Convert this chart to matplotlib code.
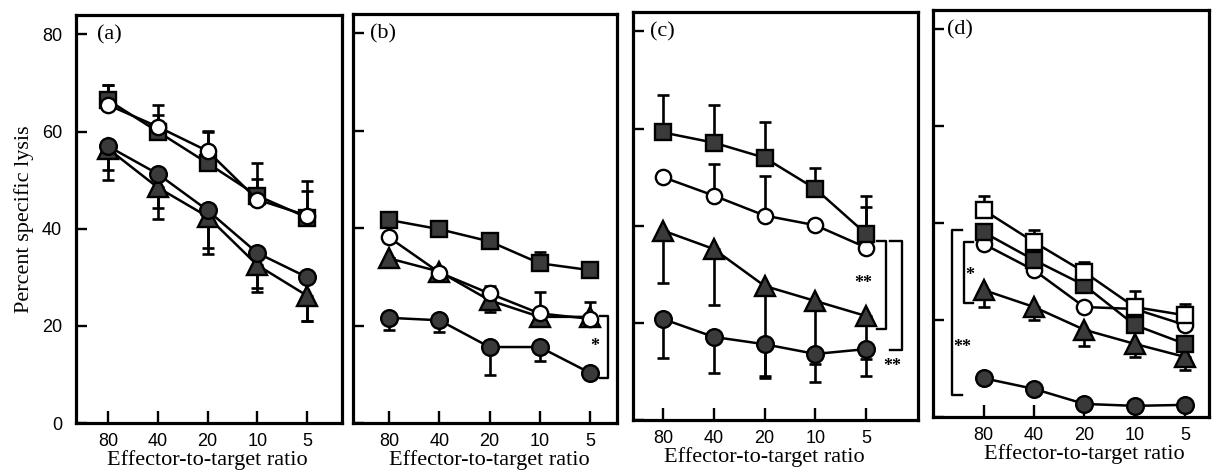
import matplotlib
matplotlib.use("Agg")
import matplotlib.pyplot as plt
from matplotlib.transforms import blended_transform_factory

# ---------------- data ----------------
ratio_labels = ["80", "40", "20", "10", "5"]
y_ticks = [0, 20, 40, 60, 80]
panel_labels = ["(a)", "(b)", "(c)", "(d)"]
xlabel_text = "Effector-to-target ratio"
ylabel_text = "Percent specific lysis"

# panel (a)
a_open_circle = [65.5, 61.0, 56.0, 46.0, 42.7]
a_open_circle_up = [4.0, 4.5, 4.2, 7.5, 5.0]
a_filled_square = [66.5, 60.0, 53.5, 46.8, 42.3]
a_filled_square_up = [3.0, 3.5, 6.5, 3.5, 7.5]
a_filled_circle = [57.0, 51.3, 43.8, 35.0, 30.0]
a_filled_circle_dn = [7.0, 7.0, 9.0, 7.2, 9.0]
a_triangle = [56.5, 48.5, 42.5, 32.5, 26.2]
a_triangle_dn = [4.5, 6.5, 6.5, 5.5, 5.2]

# panel (b)
b_filled_square = [41.7, 39.8, 37.3, 32.8, 31.4]
b_filled_square_up = [0, 0, 0, 2.4, 0]
b_open_circle = [38.1, 30.9, 26.6, 22.5, 21.4]
b_open_circle_up = [0, 0, 1.6, 4.5, 3.5]
b_triangle = [33.8, 31.1, 25.2, 21.8, 21.8]
b_triangle_dn = [0, 0, 2.4, 0, 0]
b_filled_circle = [21.6, 21.1, 15.6, 15.6, 10.3]
b_filled_circle_dn = [2.6, 2.4, 5.7, 2.8, 0]

# panel (c)
c_filled_square = [59.2, 57.1, 54.0, 47.6, 38.3]
c_filled_square_up = [7.8, 7.8, 7.4, 4.2, 7.9]
c_open_circle = [50.0, 46.2, 42.1, 40.1, 35.5]
c_open_circle_up = [0, 6.6, 8.2, 0, 8.4]
c_triangle = [39.0, 35.2, 27.6, 24.5, 21.4]
c_triangle_dn = [10.8, 11.5, 18.5, 13.0, 8.8]
c_filled_circle = [20.8, 17.1, 15.6, 13.6, 14.6]
c_filled_circle_dn = [8.0, 7.4, 6.9, 5.8, 5.5]

# panel (d)
d_open_square = [42.7, 36.1, 29.9, 22.7, 21.0]
d_open_square_up = [2.9, 2.5, 2.0, 3.3, 2.3]
d_filled_square = [38.1, 32.4, 27.2, 19.0, 15.1]
d_filled_square_up = [1.5, 0, 0, 0, 0]
d_open_circle = [35.7, 30.3, 22.7, 22.3, 19.0]
d_open_circle_up = [0, 0, 0, 0, 0]
d_triangle = [26.2, 22.7, 18.0, 15.1, 12.4]
d_triangle_dn = [3.5, 2.7, 3.4, 2.7, 2.7]
d_filled_circle = [8.0, 5.8, 2.7, 2.3, 2.5]
d_filled_circle_dn = [0, 0, 0, 0, 0]

# ---------------- style ----------------
W, H = 1214, 474
SERIF = ["Liberation Serif", "DejaVu Serif"]
SANS = ["Liberation Sans", "DejaVu Sans"]
FILL = "#3a3a3a"

styles = {
    "open_circle": dict(marker="o", ms=11, mfc="white"),
    "filled_circle": dict(marker="o", ms=12, mfc=FILL),
    "filled_square": dict(marker="s", ms=11, mfc=FILL),
    "open_square": dict(marker="s", ms=11, mfc="white"),
    "triangle": dict(marker="^", ms=14, mfc=FILL),
}

fig = plt.figure(figsize=(W / 100, H / 100), dpi=100)

# pixel boxes (left, right, top, bottom) and x-limits for each panel
boxes = [(76, 342, 15, 423), (353, 617, 14, 423), (633, 918, 12, 420), (933, 1209, 10, 417)]
xlims = [(-0.64, 4.70), (-0.72, 4.54), (-0.59, 5.02), (-1.01, 4.48)]
label_off = [21, 17, 17, 14]

panels = [
    [("triangle", a_triangle, a_triangle_dn, "dn"),
     ("filled_circle", a_filled_circle, a_filled_circle_dn, "dn"),
     ("filled_square", a_filled_square, a_filled_square_up, "up"),
     ("open_circle", a_open_circle, a_open_circle_up, "up")],
    [("filled_circle", b_filled_circle, b_filled_circle_dn, "dn"),
     ("triangle", b_triangle, b_triangle_dn, "dn"),
     ("filled_square", b_filled_square, b_filled_square_up, "up"),
     ("open_circle", b_open_circle, b_open_circle_up, "up")],
    [("filled_circle", c_filled_circle, c_filled_circle_dn, "dn"),
     ("triangle", c_triangle, c_triangle_dn, "dn"),
     ("open_circle", c_open_circle, c_open_circle_up, "up"),
     ("filled_square", c_filled_square, c_filled_square_up, "up")],
    [("filled_circle", d_filled_circle, d_filled_circle_dn, "dn"),
     ("triangle", d_triangle, d_triangle_dn, "dn"),
     ("open_circle", d_open_circle, d_open_circle_up, "up"),
     ("filled_square", d_filled_square, d_filled_square_up, "up"),
     ("open_square", d_open_square, d_open_square_up, "up")],
]

# significance brackets: (x_vertical, x_tick_end, y_top, y_bottom, label, label_x, label_y)
brackets = [
    [],
    [(4.36, 4.20, 22.0, 9.3, "*", 4.10, 15.7)],
    [(4.39, 4.22, 36.9, 18.8, "**", 3.94, 28.0),
     (4.71, 4.47, 36.9, 14.4, "**", 4.51, 11.0)],
    [(-0.64, -0.44, 38.6, 4.5, "**", -0.42, 14.4),
     (-0.40, -0.22, 36.1, 23.5, "*", -0.28, 29.3)],
]

xpos = list(range(len(ratio_labels)))

for i, ((l, r, t, b), xl) in enumerate(zip(boxes, xlims)):
    ax = fig.add_axes([l / W, 1 - b / H, (r - l) / W, (b - t) / H])
    ax.set_xlim(*xl)
    ax.set_ylim(0, 84)
    for sp in ax.spines.values():
        sp.set_linewidth(2.3)
        sp.set_color("black")

    for kind, vals, err, direction in panels[i]:
        st = styles[kind]
        zeros = [0] * len(vals)
        yerr = [zeros, err] if direction == "up" else [err, zeros]
        ax.errorbar(xpos, vals, yerr=yerr, fmt="none", ecolor="black",
                    elinewidth=1.9, capsize=4, capthick=1.9, zorder=2)
        ax.plot(xpos, vals, color="black", lw=1.8, marker=st["marker"],
                ms=st["ms"], mfc=st["mfc"], mec="black", mew=1.7, zorder=3,
                clip_on=False)

    for xv, xe, yt, yb, lab, lx, ly in brackets[i]:
        ax.plot([xe, xv, xv, xe], [yt, yt, yb, yb], color="black", lw=1.7,
                clip_on=False, zorder=4)
        ax.text(lx, ly, lab, ha="center", va="center", fontsize=13,
                family=SERIF, fontweight="bold")

    ax.set_xticks(xpos)
    ax.set_xticklabels(ratio_labels, family=SANS, fontsize=13)
    ax.tick_params(axis="x", direction="in", length=9, width=1.7, pad=7)
    ax.set_yticks(y_ticks)
    if i == 0:
        ax.set_yticklabels([str(v) for v in y_ticks], family=SANS, fontsize=13)
        ax.set_ylabel(ylabel_text, family=SERIF, fontsize=16, labelpad=6)
    else:
        ax.set_yticklabels([])
    ax.tick_params(axis="y", direction="in", length=8, width=1.7, pad=10)

    tr = blended_transform_factory(ax.transData, ax.transAxes)
    ax.text(2, -0.09, xlabel_text, transform=tr, ha="center", va="center",
            family=SERIF, fontsize=16)
    ax.text(label_off[i] / (r - l), 80 / 84, panel_labels[i],
            transform=ax.transAxes, ha="left", va="center",
            family=SERIF, fontsize=16)

fig.savefig("out.png", dpi=100)
